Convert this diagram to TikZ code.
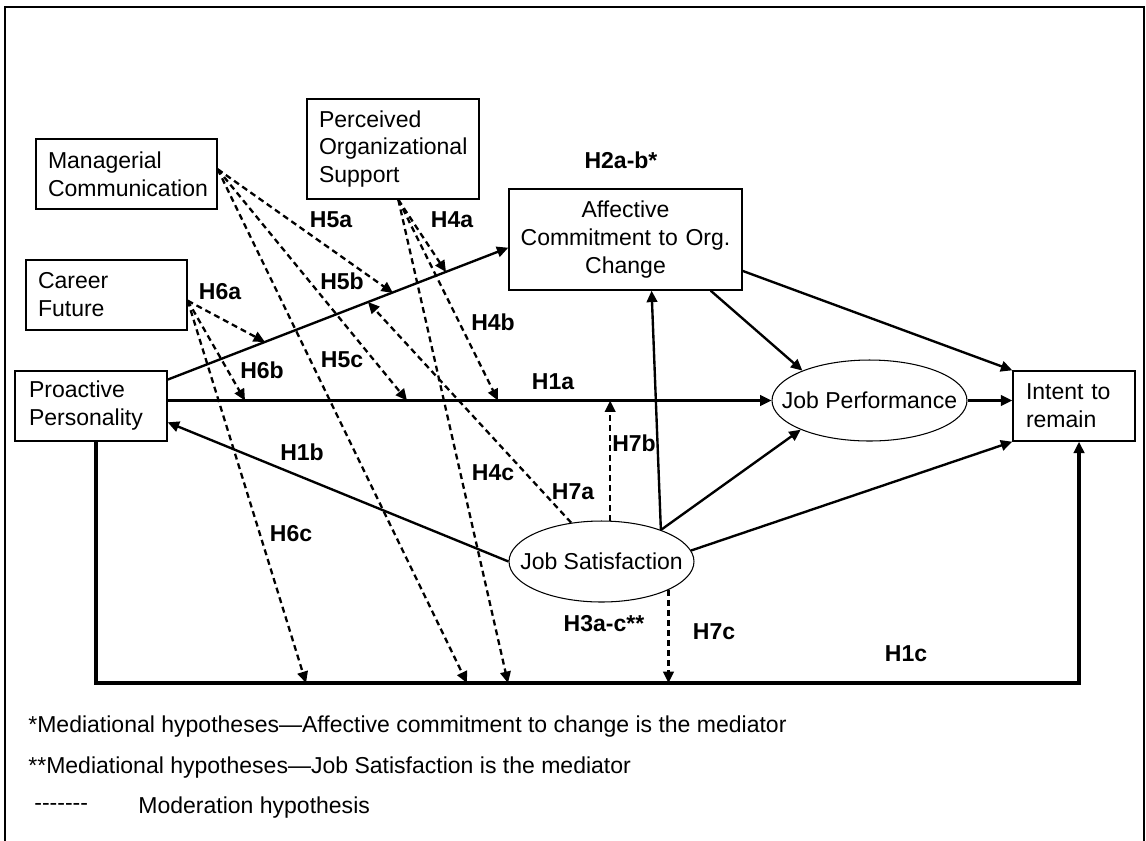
\documentclass[tikz,border=0pt]{standalone}
\usepackage{fontspec}
\setmainfont{Liberation Sans}
\usepackage{tikz}
\usetikzlibrary{arrows.meta,shapes.geometric}
\newcommand{\txtsize}{\fontsize{13.1}{15.9}\selectfont}
\hyphenpenalty=10000

\begin{document}
\begin{tikzpicture}[x=0.02cm, y=-0.02cm, font=\txtsize,
    >={Triangle[length=6.5pt,width=6pt]},
    main node/.style={draw, line width=0.8pt, align=left, inner ysep=0pt, minimum height=1.4cm},
    oval node/.style={draw, ellipse, line width=0.6pt, inner sep=0pt, minimum height=1.62cm},
    hyp node/.style={font=\txtsize\bfseries},
    note node/.style={anchor=base west, inner sep=0pt},
    main edge/.style={->, line width=1.35pt},
    mod edge/.style={->, line width=1.3pt, dash pattern=on 3.4pt off 2.3pt}]
    \useasboundingbox (0,0) rectangle (1146,840);
    \draw[line width=0.9pt] (5,850) -- (5,7) -- (1144,7) -- (1144,850);

    \node[main node, inner xsep=0.28cm, text width=2.48cm] (1) at (91,406) {Proactive\\Personality};
    \node[main node, align=center, minimum height=2.02cm, inner xsep=0.1cm, text width=4.46cm] (2) at (625.5,239.5) {Affective\\Commitment to Org.\\Change};
    \node[oval node, minimum width=3.9cm, label=center:Job Performance] (3) at (869.5,400.5) {};
    \node[main node, inner xsep=0.26cm, text width=1.92cm] (4) at (1074,406) {Intent to\\remain};
    \node[oval node, minimum width=3.7cm, label=center:Job Satisfaction] (5) at (601.5,561.5) {};
    \node[main node, inner xsep=0.24cm, text width=3.14cm] (6) at (126.5,174) {Managerial\\Communication};
    \node[main node, minimum height=2cm, inner xsep=0.24cm, text width=2.96cm] (7) at (393,149) {Perceived\\Organizational\\Support};
    \node[main node, inner xsep=0.24cm, text width=2.74cm] (8) at (106.5,295) {Career\\Future};

    % where the moderating arrows meet the paths
    \coordinate (h4a) at (446,272);
    \coordinate (h4b) at (498,400.5);
    \coordinate (h4c) at (508,683);
    \coordinate (h5a) at (393,293);
    \coordinate (h5b) at (407,400.5);
    \coordinate (h5c) at (467,683);
    \coordinate (h6a) at (265,342);
    \coordinate (h6b) at (245,400.5);
    \coordinate (h6c) at (306,683);
    \coordinate (h7a) at (368,302);
    \coordinate (base) at (600,683);

    \path[main edge]
    (1.19) edge (2.184)
    (1.east |- 3.west) edge (3.west)
    (5.west) edge (1.-12)
    (5.28) edge (2.-63)
    (5.28) edge (3.203)
    (5.7) edge (4.south west)
    (2.-31) edge (3.156)
    (2.-15) edge (4.north west)
    (3.east) edge (3.east -| 4.west);
    \draw[main edge, line width=1.9pt] (1.-82) |- (base) -| (4.-82);

    \path[mod edge]
    (6.3) edge (h5a)
    (6.3) edge (h5b)
    (6.3) edge (h5c)
    (8.-4) edge (h6a)
    (8.-4) edge (h6b)
    (8.-4) edge (h6c)
    (7.-84) edge (h4a)
    (7.-84) edge (h4b)
    (7.-84) edge (h4c)
    (5.128) edge (h7a)
    (5.78) edge (5.78 |- 3.west)
    (5.-23) edge (5.-23 |- base);

    \node[hyp node] (l2) at (621,160) {H2a-b*};
    \node[hyp node] (l5a) at (331,220) {H5a};
    \node[hyp node] (l4a) at (452,220) {H4a};
    \node[hyp node] (l5b) at (342,281) {H5b};
    \node[hyp node] (l6a) at (220,292) {H6a};
    \node[hyp node] (l4b) at (493,322) {H4b};
    \node[hyp node] (l5c) at (342,360) {H5c};
    \node[hyp node] (l6b) at (262,370) {H6b};
    \node[hyp node] (l1a) at (553,382) {H1a};
    \node[hyp node] (l7b) at (634,443) {H7b};
    \node[hyp node] (l1b) at (302,452) {H1b};
    \node[hyp node] (l4c) at (493,473) {H4c};
    \node[hyp node] (l7a) at (573,492) {H7a};
    \node[hyp node] (l6c) at (291,534) {H6c};
    \node[hyp node] (l3) at (604,624) {H3a-c**};
    \node[hyp node] (l7c) at (714,632) {H7c};
    \node[hyp node] (l1c) at (906,654) {H1c};

    \node[note node] (n1) at (28,732) {*Mediational hypotheses—Affective commitment to change is the mediator};
    \node[note node] (n2) at (28,773) {**Mediational hypotheses—Job Satisfaction is the mediator};
    \node[note node] (n3) at (34,810) {-{}-{}-{}-{}-{}-{}-};
    \node[note node] (n4) at (138,813) {Moderation hypothesis};
  \end{tikzpicture}
\end{document}
